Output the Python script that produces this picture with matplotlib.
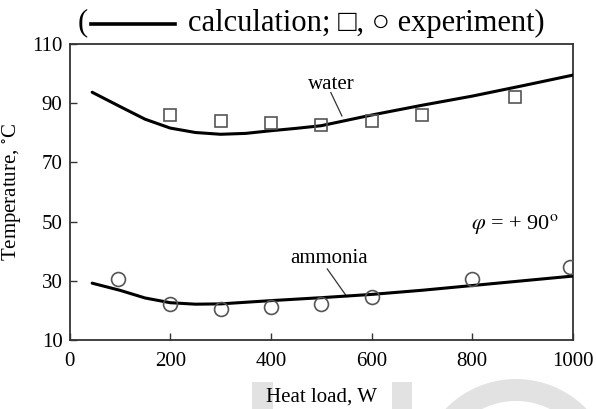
import matplotlib
matplotlib.use("Agg")
import matplotlib.pyplot as plt
from matplotlib.lines import Line2D
from matplotlib.patches import Rectangle, Wedge

plt.rcParams['font.family'] = ['Liberation Serif', 'DejaVu Serif']
plt.rcParams['mathtext.fontset'] = 'stix'

# calculation curves
water_calc_w = [45, 100, 150, 200, 250, 300, 350, 400, 450, 500, 600, 700, 800, 900, 1000]
water_calc_t = [93.7, 88.9, 84.6, 81.6, 80.1, 79.5, 79.8, 80.7, 81.5, 82.4, 86.0, 89.3, 92.4, 95.9, 99.5]
ammonia_calc_w = [45, 100, 150, 200, 250, 300, 400, 500, 600, 700, 800, 900, 1000]
ammonia_calc_t = [29.2, 26.8, 24.2, 22.6, 22.1, 22.2, 23.3, 24.3, 25.4, 26.8, 28.4, 30.0, 31.6]

# experiments
water_exp_w = [200, 300, 400, 500, 600, 700, 885]
water_exp_t = [86.0, 84.0, 83.4, 82.6, 84.0, 86.0, 92.2]
ammonia_exp_w = [97, 200, 300, 400, 500, 600, 800, 995]
ammonia_exp_t = [30.6, 22.1, 20.4, 21.0, 22.2, 24.6, 30.5, 34.8]

x_ticks = [0, 200, 400, 600, 800, 1000]
y_ticks = [10, 30, 50, 70, 90, 110]

W, H = 596, 409
fig = plt.figure(figsize=(W / 100, H / 100), dpi=100)

# background watermark shapes (pixel coordinates)
bg = fig.add_axes([0, 0, 1, 1], zorder=0)
bg.set_xlim(0, W)
bg.set_ylim(H, 0)
bg.axis('off')
wm = '#e2e2e2'
bg.add_patch(Rectangle((252, 382), 21, 30, color=wm, lw=0))
bg.add_patch(Rectangle((392, 382), 20, 30, color=wm, lw=0))
bg.add_patch(Wedge((516, 477), 98, 0, 360, width=22, color=wm, lw=0))

ax = fig.add_axes([69.5 / W, 1 - 340 / H, (573 - 69.5) / W, (340 - 44) / H])
ax.set_zorder(2)
ax.patch.set_alpha(0)

spine_c = '#333333'
ax.plot(water_calc_w, water_calc_t, color='black', lw=2.2, solid_capstyle='round',
        solid_joinstyle='round', zorder=3)
ax.plot(ammonia_calc_w, ammonia_calc_t, color='black', lw=2.2, solid_capstyle='round',
        solid_joinstyle='round', zorder=3)
ax.plot(water_exp_w, water_exp_t, linestyle='none', marker='s', markersize=9,
        markerfacecolor='none', markeredgecolor='#555555', markeredgewidth=1.2, zorder=4)
ax.plot(ammonia_exp_w, ammonia_exp_t, linestyle='none', marker='o', markersize=10,
        markerfacecolor='none', markeredgecolor='#555555', markeredgewidth=1.2, zorder=4)

ax.set_xlim(0, 1000)
ax.set_ylim(10, 110)
ax.set_xticks(x_ticks)
ax.set_yticks(y_ticks)
ax.tick_params(direction='in', length=5, width=1.0, color=spine_c, labelsize=15)
ax.tick_params(axis='x', pad=9)
ax.tick_params(axis='y', pad=5)
for s in ax.spines.values():
    s.set_color(spine_c)
    s.set_linewidth(1.3)

ax.set_xlabel('Heat load, W', fontsize=15)
ax.xaxis.set_label_coords(0.5, -0.16)
ax.set_ylabel('Temperature, $^{\\circ}$C', fontsize=15)
ax.yaxis.set_label_coords(-0.092, 0.5)

# annotations
ax.text(520, 96.3, 'water', fontsize=15, ha='center', va='center')
ax.plot([519, 541], [93.6, 85.7], color='#333333', lw=0.9)
ax.text(516, 37.4, 'ammonia', fontsize=15, ha='center', va='center')
ax.plot([512, 551], [34.0, 24.6], color='#333333', lw=0.9)
ax.text(884, 49.2, r'$\varphi$ = + 90$^{\rm o}$', fontsize=16, ha='center', va='center')

# title legend
fig.text(78 / W, 1 - 23 / H, '(', fontsize=22, ha='left', va='center')
fig.lines.append(Line2D([91 / W, 175 / W], [1 - 23.5 / H, 1 - 23.5 / H],
                        transform=fig.transFigure, color='black', lw=2.6))
fig.text(188 / W, 1 - 23 / H, 'calculation; \u25a1, \u25cb experiment)', fontsize=22,
         ha='left', va='center')

fig.savefig('out.png', dpi=100)
